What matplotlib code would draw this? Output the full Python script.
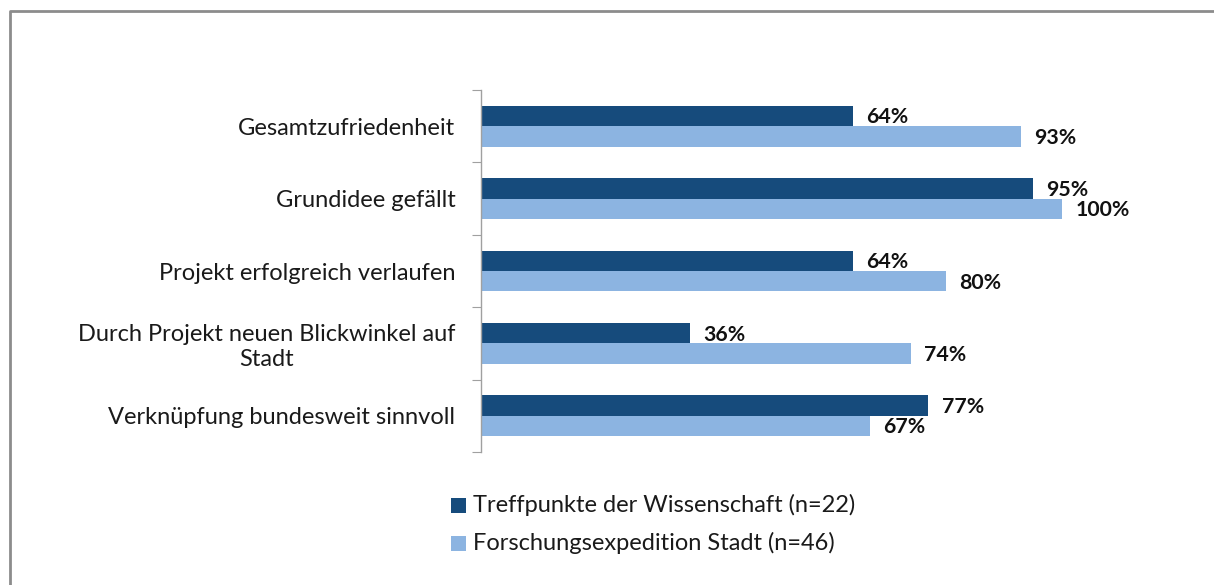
import matplotlib
matplotlib.use("Agg")
import matplotlib.pyplot as plt
from matplotlib.patches import Rectangle
from matplotlib.lines import Line2D

plt.rcParams['font.family'] = ['Lato', 'DejaVu Sans']

categories = ["Gesamtzufriedenheit", "Grundidee gefällt", "Projekt erfolgreich verlaufen",
              "Durch Projekt neuen Blickwinkel auf\nStadt", "Verknüpfung bundesweit sinnvoll"]
series_names = ["Treffpunkte der Wissenschaft (n=22)", "Forschungsexpedition Stadt (n=46)"]
treffpunkte = [64, 95, 64, 36, 77]
forschung = [93, 100, 80, 74, 67]
colors = ["#164B7C", "#8CB4E1"]

W, H = 1214, 585
fig = plt.figure(figsize=(W / 100, H / 100), dpi=100)

ax = fig.add_axes([481 / W, 1 - 452 / H, 581 / W, 362 / H])
ax.set_xlim(0, 100)
ax.set_ylim(len(categories) - 0.5, -0.5)

h = 0.283
ys = list(range(len(categories)))
ax.barh([y - h / 2 for y in ys], treffpunkte, height=h, color=colors[0], edgecolor='none')
ax.barh([y + h / 2 for y in ys], forschung, height=h, color=colors[1], edgecolor='none')

for y, v in zip(ys, treffpunkte):
    ax.annotate(f"{v}%", (v, y - h / 2), xytext=(9.5, -1), textcoords='offset points',
                va='center', ha='left', fontsize=15.3, fontweight='bold', color='#111111')
for y, v in zip(ys, forschung):
    ax.annotate(f"{v}%", (v, y + h / 2), xytext=(9.5, -1), textcoords='offset points',
                va='center', ha='left', fontsize=15.3, fontweight='bold', color='#111111')

for s in ['top', 'right', 'bottom']:
    ax.spines[s].set_visible(False)
ax.spines['left'].set_color('#a0a0a0')
ax.spines['left'].set_linewidth(1.0)
ax.set_xticks([])
ax.set_yticks([y - 0.5 for y in range(len(categories) + 1)])
ax.set_yticklabels([])
ax.tick_params(axis='y', which='major', length=6.5, color='#a0a0a0', direction='out')
ax.set_yticks(ys, minor=True)
ax.set_yticklabels(categories, minor=True, fontsize=17, color='#1a1a1a',
                   multialignment='center')
for lbl in ax.get_yticklabels(minor=True):
    lbl.set_horizontalalignment('right')
ax.tick_params(axis='y', which='minor', length=0, pad=18.5)

# legend (manual)
leg_y = [505, 543]
for i, name in enumerate(series_names):
    fig.patches.append(Rectangle((451 / W, 1 - (leg_y[i] + 7.5) / H), 15 / W, 15 / H,
                                 transform=fig.transFigure, facecolor=colors[i], edgecolor='none'))
    fig.text(473 / W, 1 - leg_y[i] / H, name, fontsize=17, color='#1a1a1a', va='center', ha='left')

# frame
fig.lines.append(Line2D([9.5 / W, 9.5 / W, 1.0], [0, 1 - 11 / H, 1 - 11 / H],
                        transform=fig.transFigure, color='#8c8c8c', linewidth=2.0))

fig.savefig("out.png", dpi=100)
